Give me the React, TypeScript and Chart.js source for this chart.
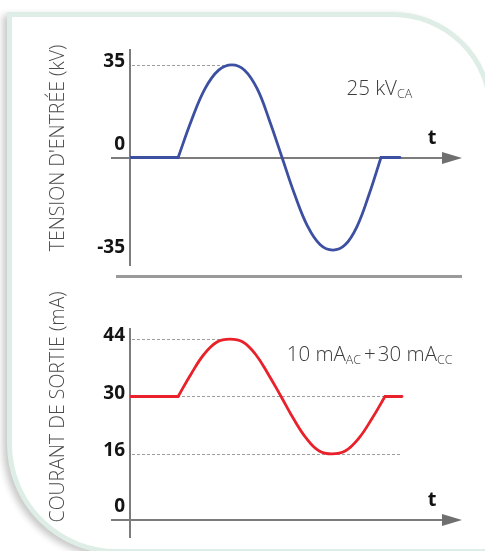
import React, { useEffect, useRef } from "react";
import { Chart, registerables } from "chart.js";

Chart.register(...registerables);

// ---------- data (time in arbitrary units, 0..100 along the t axis) ----------
const inputIdleBefore = [0, 14.5];
const inputIdleAfter = [75.6, 81.3];
const inputTimes = [14.5, 18.5, 22.6, 26.7, 30.7, 34.5, 38.3, 42.0, 45.8, 49.6, 53.5, 57.3, 61.1, 64.8, 68.4, 72.0, 75.6];
const inputVoltage = [0, 14, 26, 33, 35, 33, 26, 14, 0, -14, -26, -33, -35, -33, -26, -14, 0];
const inputIdleVoltage = 0;
const inputTicks = [-35, 0, 35];

const outputIdleBefore = [0, 14.5];
const outputIdleAfter = [76.8, 81.9];
const outputTimes = [14.5, 18.4, 22.3, 26.2, 30.1, 34.0, 37.8, 41.6, 45.5, 49.3, 53.2, 57.0, 60.8, 64.8, 68.8, 72.8, 76.8];
const outputCurrent = [30, 35.5, 40.3, 43.3, 44, 43.3, 40.3, 35.5, 30, 24.5, 19.7, 16.7, 16, 16.7, 19.7, 24.5, 30];
const outputIdleCurrent = 30;
const outputTicks = [0, 16, 30, 44];

const inputTitle = "TENSION D'ENTRÉE (kV)";
const outputTitle = "COURANT DE SORTIE (mA)";
const inputNote = [
  { text: "25 kV", sub: false, gap: 0 },
  { text: "CA", sub: true, gap: 0 },
];
const outputNote = [
  { text: "10 mA", sub: false, gap: 0 },
  { text: "AC", sub: true, gap: 0 },
  { text: "+", sub: false, gap: 3 },
  { text: "30 mA", sub: false, gap: 2 },
  { text: "CC", sub: true, gap: 0 },
];
const inputRefs = [{ value: 35, to: 30.7 }];
const outputRefs = [
  { value: 44, to: 30.1 },
  { value: 30, to: 81.9 },
  { value: 16, to: 81.9 },
];
const axisLabel = "t";

type Seg = { text: string; sub: boolean; gap: number };
type Panel = {
  top: number;
  height: number;
  padTop: number;
  padBottom: number;
  yMin: number;
  yMax: number;
  ticks: number[];
  axisValue: number;
  color: string;
  idleValue: number;
  idleBefore: number[];
  idleAfter: number[];
  times: number[];
  values: number[];
  refs: { value: number; to: number }[];
  title: string;
  titleY: number;
  note: Seg[];
  noteX: number;
  noteValue: number;
};

const FONT = "'Open Sans', 'DejaVu Sans', sans-serif";

function makeDecor(p: Panel) {
  return {
    id: "decor",
    beforeDatasetsDraw(chart: any) {
      const { ctx, scales, chartArea } = chart;
      const x = scales.x;
      const y = scales.y;
      ctx.save();
      // dashed reference lines
      ctx.setLineDash([3, 2]);
      ctx.strokeStyle = "#9c9c9c";
      ctx.lineWidth = 1;
      for (const r of p.refs) {
        const py = Math.round(y.getPixelForValue(r.value)) + 0.5;
        ctx.beginPath();
        ctx.moveTo(x.getPixelForValue(0.6), py);
        ctx.lineTo(x.getPixelForValue(r.to), py);
        ctx.stroke();
      }
      ctx.setLineDash([]);
      // y axis
      const x0 = x.getPixelForValue(0);
      ctx.strokeStyle = "#7c7c7c";
      ctx.lineWidth = 2;
      ctx.beginPath();
      ctx.moveTo(x0, chartArea.top);
      ctx.lineTo(x0, chartArea.bottom);
      ctx.stroke();
      // x axis with arrow
      const y0 = Math.round(y.getPixelForValue(p.axisValue));
      const tip = x.getPixelForValue(100);
      ctx.beginPath();
      ctx.moveTo(x0 - 19, y0);
      ctx.lineTo(tip - 18, y0);
      ctx.stroke();
      ctx.fillStyle = "#6f6f6f";
      ctx.beginPath();
      ctx.moveTo(tip, y0);
      ctx.lineTo(tip - 20, y0 - 6);
      ctx.lineTo(tip - 20, y0 + 6);
      ctx.closePath();
      ctx.fill();
      ctx.restore();
    },
    afterDraw(chart: any) {
      const { ctx, scales } = chart;
      const x = scales.x;
      const y = scales.y;
      ctx.save();
      // rotated axis title
      ctx.translate(58.5, p.titleY);
      ctx.rotate(-Math.PI / 2);
      ctx.font = `300 19.5px ${FONT}`;
      ctx.fillStyle = "#4a4a4a";
      ctx.textAlign = "center";
      ctx.textBaseline = "middle";
      ctx.fillText(p.title, 0, 0);
      ctx.restore();

      ctx.save();
      // t label
      const y0 = y.getPixelForValue(p.axisValue);
      ctx.font = `bold 20px ${FONT}`;
      ctx.fillStyle = "#111";
      ctx.textAlign = "center";
      ctx.textBaseline = "alphabetic";
      ctx.fillText(axisLabel, x.getPixelForValue(91), y0 - 14);

      // note with subscripts
      ctx.textAlign = "left";
      ctx.fillStyle = "#3c3c3c";
      let cx = x.getPixelForValue(p.noteX);
      const base = y.getPixelForValue(p.noteValue);
      for (const s of p.note) {
        cx += s.gap;
        ctx.font = s.sub ? `300 12.5px ${FONT}` : `300 20.5px ${FONT}`;
        ctx.fillText(s.text, cx, s.sub ? base + 3 : base);
        cx += ctx.measureText(s.text).width;
      }
      ctx.restore();
    },
  };
}

function pts(t: number[], v: number[]) {
  return t.map((tt, i) => ({ x: tt, y: v[i] }));
}

function ChartPanel({ p }: { p: Panel }) {
  const ref = useRef<HTMLCanvasElement | null>(null);
  useEffect(() => {
    if (!ref.current) return;
    const line = { borderColor: p.color, borderWidth: 2.8, pointRadius: 0, borderCapStyle: "round", borderJoinStyle: "round", fill: false };
    const chart = new Chart(ref.current, {
      type: "line",
      data: {
        datasets: [
          { ...line, data: pts(p.idleBefore, p.idleBefore.map(() => p.idleValue)), tension: 0 },
          { ...line, data: pts(p.times, p.values), tension: 0.4 },
          { ...line, data: pts(p.idleAfter, p.idleAfter.map(() => p.idleValue)), tension: 0 },
        ] as any,
      },
      options: {
        animation: false,
        responsive: false,
        devicePixelRatio: 1,
        layout: { padding: { top: p.padTop, bottom: p.padBottom, left: 0, right: 23 } },
        plugins: { legend: { display: false }, tooltip: { enabled: false } },
        events: [],
        scales: {
          x: { type: "linear", min: 0, max: 100, display: false },
          y: {
            type: "linear",
            min: p.yMin,
            max: p.yMax,
            grid: { display: false, drawTicks: false },
            border: { display: false },
            afterBuildTicks: (s: any) => {
              s.ticks = p.ticks.map((v) => ({ value: v }));
            },
            afterFit: (s: any) => {
              s.width = 130;
              s.paddingTop = 0;
              s.paddingBottom = 0;
            },
            ticks: {
              padding: 5,
              labelOffset: -3,
              color: "#141414",
              font: { family: FONT, size: 19, weight: "bold", lineHeight: 1.05 },
              callback: (v: any) => (v === 0 ? ["0", ""] : String(v)),
            },
          },
        },
      } as any,
      plugins: [makeDecor(p)],
    });
    return () => chart.destroy();
  }, [p]);
  return (
    <canvas
      ref={ref}
      width={485}
      height={p.height}
      style={{ position: "absolute", left: 0, top: p.top, width: 485, height: p.height }}
    />
  );
}

const topPanel: Panel = {
  top: 0,
  height: 280,
  padTop: 49,
  padBottom: 14,
  yMin: -41,
  yMax: 41,
  ticks: inputTicks,
  axisValue: 0,
  color: "#3c4fa0",
  idleValue: inputIdleVoltage,
  idleBefore: inputIdleBefore,
  idleAfter: inputIdleAfter,
  times: inputTimes,
  values: inputVoltage,
  refs: inputRefs,
  title: inputTitle,
  titleY: 148,
  note: inputNote,
  noteX: 65.2,
  noteValue: 23.6,
};

const bottomPanel: Panel = {
  top: 280,
  height: 271,
  padTop: 48,
  padBottom: 13,
  yMin: -4.5,
  yMax: 46.7,
  ticks: outputTicks,
  axisValue: 0,
  color: "#e8212a",
  idleValue: outputIdleCurrent,
  idleBefore: outputIdleBefore,
  idleAfter: outputIdleAfter,
  times: outputTimes,
  values: outputCurrent,
  refs: outputRefs,
  title: outputTitle,
  titleY: 127,
  note: outputNote,
  noteX: 47.2,
  noteValue: 38.7,
};

export default function App() {
  return (
    <div
      style={{
        position: "fixed",
        left: 0,
        top: 0,
        width: 485,
        height: 551,
        overflow: "hidden",
        background: "#ffffff",
      }}
    >
      <div
        style={{
          position: "absolute",
          left: 7,
          top: 12,
          width: 486,
          height: 542,
          boxSizing: "border-box",
          border: "5px solid #deeee6",
          borderTopRightRadius: 100,
          borderBottomLeftRadius: 110,
          background: "#ffffff",
          boxShadow: "-4px 3px 7px rgba(0,0,0,0.22)",
        }}
      />
      <div
        style={{
          position: "absolute",
          left: 116,
          top: 275,
          width: 346,
          height: 3,
          background: "#9a9a9a",
        }}
      />
      <ChartPanel p={topPanel} />
      <ChartPanel p={bottomPanel} />
    </div>
  );
}
